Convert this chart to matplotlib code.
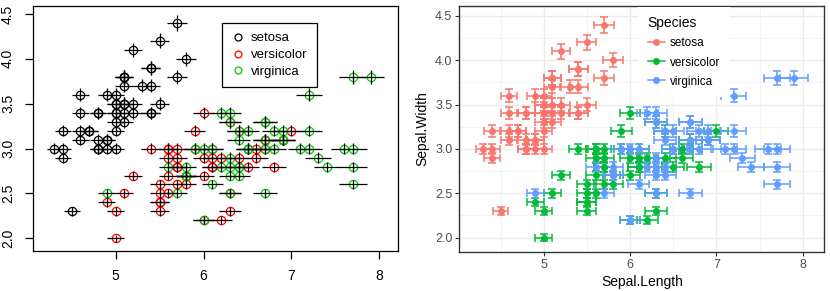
import numpy as np
import matplotlib
matplotlib.use("Agg")
import matplotlib.pyplot as plt
from matplotlib.lines import Line2D

plt.rcParams['font.family'] = ['Liberation Sans', 'DejaVu Sans']

# iris sepal measurements, by species
setosa_length = [5.1, 4.9, 4.7, 4.6, 5.0, 5.4, 4.6, 5.0, 4.4, 4.9,
                 5.4, 4.8, 4.8, 4.3, 5.8, 5.7, 5.4, 5.1, 5.7, 5.1,
                 5.4, 5.1, 4.6, 5.1, 4.8, 5.0, 5.0, 5.2, 5.2, 4.7,
                 4.8, 5.4, 5.2, 5.5, 4.9, 5.0, 5.5, 4.9, 4.4, 5.1,
                 5.0, 4.5, 4.4, 5.0, 5.1, 4.8, 5.1, 4.6, 5.3, 5.0]
setosa_width = [3.5, 3.0, 3.2, 3.1, 3.6, 3.9, 3.4, 3.4, 2.9, 3.1,
                3.7, 3.4, 3.0, 3.0, 4.0, 4.4, 3.9, 3.5, 3.8, 3.8,
                3.4, 3.7, 3.6, 3.3, 3.4, 3.0, 3.4, 3.5, 3.4, 3.2,
                3.1, 3.4, 4.1, 4.2, 3.1, 3.2, 3.5, 3.6, 3.0, 3.4,
                3.5, 2.3, 3.2, 3.5, 3.8, 3.0, 3.8, 3.2, 3.7, 3.3]
versicolor_length = [7.0, 6.4, 6.9, 5.5, 6.5, 5.7, 6.3, 4.9, 6.6, 5.2,
                     5.0, 5.9, 6.0, 6.1, 5.6, 6.7, 5.6, 5.8, 6.2, 5.6,
                     5.9, 6.1, 6.3, 6.1, 6.4, 6.6, 6.8, 6.7, 6.0, 5.7,
                     5.5, 5.5, 5.8, 6.0, 5.4, 6.0, 6.7, 6.3, 5.6, 5.5,
                     5.5, 6.1, 5.8, 5.0, 5.6, 5.7, 5.7, 6.2, 5.1, 5.7]
versicolor_width = [3.2, 3.2, 3.1, 2.3, 2.8, 2.8, 3.3, 2.4, 2.9, 2.7,
                    2.0, 3.0, 2.2, 2.9, 2.9, 3.1, 3.0, 2.7, 2.2, 2.5,
                    3.2, 2.8, 2.5, 2.8, 2.9, 3.0, 2.8, 3.0, 2.9, 2.6,
                    2.4, 2.4, 2.7, 2.7, 3.0, 3.4, 3.1, 2.3, 3.0, 2.5,
                    2.6, 3.0, 2.6, 2.3, 2.7, 3.0, 2.9, 2.9, 2.5, 2.8]
virginica_length = [6.3, 5.8, 7.1, 6.3, 6.5, 7.6, 4.9, 7.3, 6.7, 7.2,
                    6.5, 6.4, 6.8, 5.7, 5.8, 6.4, 6.5, 7.7, 7.7, 6.0,
                    6.9, 5.6, 7.7, 6.3, 6.7, 7.2, 6.2, 6.1, 6.4, 7.2,
                    7.4, 7.9, 6.4, 6.3, 6.1, 7.7, 6.3, 6.4, 6.0, 6.9,
                    6.7, 6.9, 5.8, 6.8, 6.7, 6.7, 6.3, 6.5, 6.2, 5.9]
virginica_width = [3.3, 2.7, 3.0, 2.9, 3.0, 3.0, 2.5, 2.9, 2.5, 3.6,
                   3.2, 2.7, 3.0, 2.5, 2.8, 3.2, 3.0, 3.8, 2.6, 2.2,
                   3.2, 2.8, 2.8, 2.7, 3.3, 3.2, 2.8, 3.0, 2.8, 3.0,
                   2.8, 3.8, 2.8, 2.8, 2.6, 3.0, 3.4, 3.1, 3.0, 3.1,
                   3.1, 3.1, 2.7, 3.2, 3.3, 3.0, 2.5, 3.0, 3.4, 3.0]

species = ["setosa", "versicolor", "virginica"]
lengths = [setosa_length, versicolor_length, virginica_length]
widths = [setosa_width, versicolor_width, virginica_width]
err_frac = 0.02  # error bars are 2% of the value

base_colors = ["black", "#FF0000", "#00CD00"]
gg_colors = ["#F8766D", "#00BA38", "#619CFF"]

all_x = np.concatenate([np.array(v) for v in lengths])
all_y = np.concatenate([np.array(v) for v in widths])
xlo, xhi = all_x.min() * (1 - err_frac), all_x.max() * (1 + err_frac)
ylo, yhi = all_y.min() * (1 - err_frac), all_y.max() * (1 + err_frac)

W, H = 830, 291
fig = plt.figure(figsize=(W / 100, H / 100), dpi=100)

# ---- left: base R style ----
ax1 = fig.add_axes([33 / W, (H - 251) / H, 365 / W, 245 / H])
for x, y, c in zip(lengths, widths, base_colors):
    ax1.plot(x, y, 'o', mfc='none', mec=c, ms=6, mew=0.9, zorder=2)
for x, y in zip(lengths, widths):
    x = np.array(x); y = np.array(y)
    ax1.errorbar(x, y, xerr=x * err_frac, yerr=y * err_frac, fmt='none',
                 ecolor='black', elinewidth=0.9, capsize=0, zorder=3)
px = (xhi - xlo) * 0.04
py = (yhi - ylo) * 0.04
ax1.set_xlim(xlo - px, xhi + px)
ax1.set_ylim(ylo - py, yhi + py)
ax1.set_xticks([5, 6, 7, 8])
yt = [2.0, 2.5, 3.0, 3.5, 4.0, 4.5]
ax1.set_yticks(yt)
ax1.set_yticklabels(["%.1f" % v for v in yt], rotation=90, va='center')
ax1.tick_params(length=6, width=0.9, labelsize=10, pad=7)
for s in ax1.spines.values():
    s.set_linewidth(0.9)
h1 = [Line2D([0], [0], ls='none', marker='o', mfc='none', mec=c, ms=5, mew=0.9)
      for c in base_colors]
leg1 = ax1.legend(h1, species, loc='upper left', bbox_to_anchor=(0.518, 0.931),
                  fancybox=False, edgecolor='black', framealpha=1, fontsize=9.5,
                  handlelength=1.0, handletextpad=0.5, borderpad=0.7,
                  labelspacing=0.35, borderaxespad=0)
leg1.get_frame().set_linewidth(0.9)

# ---- right: ggplot style ----
ax2 = fig.add_axes([459.3 / W, (H - 252.3) / H, 365 / W, 246.6 / H])
for x, y, c in zip(lengths, widths, gg_colors):
    x = np.array(x); y = np.array(y)
    ax2.errorbar(x, y, xerr=x * err_frac, yerr=y * err_frac, fmt='o', color=c,
                 ms=4, elinewidth=1.1, capsize=3, capthick=1.1)
px = (xhi - xlo) * 0.05
py = (yhi - ylo) * 0.05
ax2.set_xlim(xlo - px, xhi + px)
ax2.set_ylim(ylo - py, yhi + py)
ax2.set_xticks([5, 6, 7, 8])
ax2.set_xticks([4.5, 5.5, 6.5, 7.5], minor=True)
ax2.set_yticks(yt)
ax2.set_yticklabels(["%.1f" % v for v in yt])
ax2.set_yticks([2.25, 2.75, 3.25, 3.75, 4.25], minor=True)
ax2.grid(which='major', color='#EBEBEB', lw=1.0)
ax2.grid(which='minor', color='#F2F2F2', lw=0.6)
ax2.set_axisbelow(True)
ax2.tick_params(which='major', length=3, width=0.8, color='#333333',
                labelcolor='#4D4D4D', labelsize=9, pad=2)
ax2.tick_params(which='minor', length=0)
for s in ax2.spines.values():
    s.set_color('#333333')
    s.set_linewidth(1.0)
ax2.set_xlabel("Sepal.Length", fontsize=10, labelpad=3)
ax2.set_ylabel("Sepal.Width", fontsize=10, labelpad=4)
h2 = [Line2D([0], [0], color=c, marker='o', ms=4, lw=1.1) for c in gg_colors]
leg2 = ax2.legend(h2, species, loc='upper left', bbox_to_anchor=(0.49, 0.995),
                  title="Species", title_fontsize=10, fontsize=8.5,
                  alignment='left', frameon=True, facecolor='white',
                  edgecolor='none', framealpha=1, fancybox=False,
                  handlelength=1.5, handletextpad=0.4, labelspacing=0.6,
                  borderpad=0.8, borderaxespad=0)

fig.savefig("out.png", dpi=100)
